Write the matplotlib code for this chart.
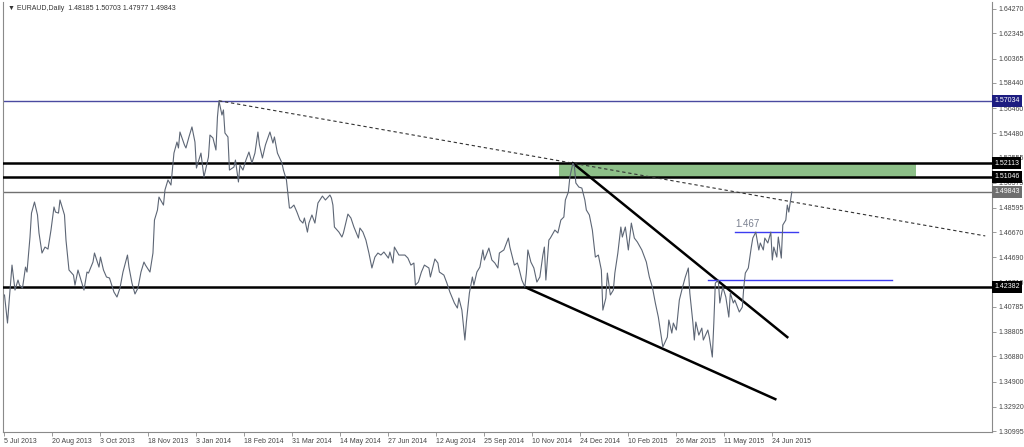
import matplotlib
matplotlib.use("Agg")
import matplotlib.pyplot as plt
from matplotlib.patches import Rectangle

plt.rcParams['font.family'] = ['Liberation Sans', 'DejaVu Sans']

# daily closes (bar index, price)
bars = [0, 2, 3, 5, 7, 9, 10, 12, 14, 15, 17, 18, 20, 22, 23, 25, 27, 29, 31, 33,
        34, 36, 37, 40, 41, 43, 46, 47, 49, 51, 53, 55, 56, 59, 60, 63, 64, 66, 68, 70,
        73, 75, 77, 79, 82, 83, 85, 87, 89, 91, 93, 94, 97, 99, 100, 102, 103, 106, 107, 109,
        111, 113, 115, 116, 117, 120, 121, 123, 125, 127, 128, 130, 131, 133, 136, 137, 139, 141, 142, 143,
        145, 146, 147, 149, 150, 153, 154, 156, 157, 159, 161, 163, 165, 167, 169, 170, 172, 174, 177, 179,
        180, 182, 185, 186, 188, 190, 191, 193, 195, 197, 199, 200, 202, 203, 205, 207, 209, 212, 214, 217,
        218, 219, 220, 223, 225, 226, 229, 231, 233, 236, 237, 239, 241, 243, 245, 247, 249, 251, 253, 256,
        257, 259, 260, 263, 267, 269, 271, 273, 274, 276, 278, 280, 283, 284, 287, 289, 290, 293, 295, 297,
        300, 302, 303, 305, 307, 308, 310, 312, 313, 315, 317, 319, 320, 323, 325, 327, 329, 330, 333, 336,
        337, 340, 342, 343, 345, 347, 348, 349, 351, 353, 355, 357, 359, 360, 361, 363, 364, 367, 369, 371,
        373, 374, 376, 377, 379, 380, 381, 383, 385, 387, 388, 390, 392, 394, 396, 398, 399, 401, 402, 404,
        406, 407, 409, 411, 412, 414, 416, 418, 420, 422, 425, 428, 430, 432, 434, 436, 439, 442, 443, 445,
        446, 448, 450, 452, 454, 456, 457, 459, 460, 461, 463, 465, 466, 469, 470, 472, 473, 474, 476, 477,
        479, 481, 483, 484, 486, 487, 489, 490, 492, 493, 494, 496, 498, 499, 501, 503, 504, 506, 507, 509,
        511, 512, 513, 515, 516, 518, 519, 521, 522, 523, 525]
closes = [1.4172, 1.3951, 1.4109, 1.4408, 1.4211, 1.4290, 1.4250, 1.4227, 1.4392, 1.4353,
          1.4629, 1.4818, 1.4905, 1.4803, 1.4661, 1.4503, 1.4550, 1.4534, 1.4684, 1.4866,
          1.4826, 1.4818, 1.4921, 1.4803, 1.4605, 1.4369, 1.4329, 1.4250, 1.4369, 1.4290,
          1.4211, 1.4353, 1.4345, 1.4432, 1.4503, 1.4392, 1.4471, 1.4369, 1.4314, 1.4306,
          1.4195, 1.4156, 1.4227, 1.4353, 1.4487, 1.4392, 1.4266, 1.4180, 1.4227, 1.4353,
          1.4432, 1.4408, 1.4353, 1.4503, 1.4763, 1.4842, 1.4944, 1.4881, 1.5000, 1.5079,
          1.5039, 1.5291, 1.5378, 1.5331, 1.5457, 1.5355, 1.5331, 1.5418, 1.5497, 1.5378,
          1.5173, 1.5252, 1.5291, 1.5102, 1.5260, 1.5433, 1.5410, 1.5315, 1.5575, 1.5703,
          1.5591, 1.5631, 1.5449, 1.5418, 1.5157, 1.5181, 1.5236, 1.5063, 1.5197, 1.5157,
          1.5236, 1.5299, 1.5213, 1.5291, 1.5457, 1.5355, 1.5252, 1.5355, 1.5457, 1.5370,
          1.5418, 1.5291, 1.5213, 1.5157, 1.5079, 1.4858, 1.4858, 1.4881, 1.4826, 1.4763,
          1.4739, 1.4779, 1.4668, 1.4739, 1.4803, 1.4739, 1.4897, 1.4952, 1.4921, 1.4960,
          1.4937, 1.4881, 1.4708, 1.4668, 1.4629, 1.4661, 1.4810, 1.4779, 1.4708, 1.4621,
          1.4700, 1.4668, 1.4605, 1.4503, 1.4385, 1.4471, 1.4503, 1.4487, 1.4511, 1.4463,
          1.4511, 1.4424, 1.4550, 1.4487, 1.4487, 1.4463, 1.4408, 1.4424, 1.4250, 1.4274,
          1.4353, 1.4408, 1.4385, 1.4314, 1.4456, 1.4424, 1.4353, 1.4329, 1.4266, 1.4195,
          1.4109, 1.4069, 1.4148, 1.4053, 1.3817, 1.3959, 1.4187, 1.4314, 1.4250, 1.4353,
          1.4392, 1.4527, 1.4448, 1.4542, 1.4448, 1.4424, 1.4385, 1.4503, 1.4527, 1.4621,
          1.4550, 1.4408, 1.4424, 1.4385, 1.4290, 1.4235, 1.4345, 1.4527, 1.4432, 1.4385,
          1.4274, 1.4314, 1.4487, 1.4550, 1.4290, 1.4605, 1.4621, 1.4684, 1.4661, 1.4763,
          1.4787, 1.4921, 1.4984, 1.5102, 1.5211, 1.5190, 1.5055, 1.5023, 1.5015, 1.4921,
          1.4842, 1.4803, 1.4684, 1.4471, 1.4487, 1.4369, 1.4053, 1.4148, 1.4345, 1.4172,
          1.4211, 1.4345, 1.4503, 1.4708, 1.4629, 1.4708, 1.4527, 1.4739, 1.4621, 1.4590,
          1.4527, 1.4432, 1.4314, 1.4235, 1.4109, 1.3998, 1.3762, 1.3840, 1.3975, 1.3872,
          1.3951, 1.3896, 1.4132, 1.4227, 1.4314, 1.4385, 1.4187, 1.3959, 1.3817, 1.3959,
          1.3856, 1.3911, 1.3817, 1.3896, 1.3840, 1.3683, 1.3951, 1.4266, 1.4290, 1.4109,
          1.4235, 1.4156, 1.3998, 1.4187, 1.4109, 1.4132, 1.4069, 1.4038, 1.4077, 1.4235,
          1.4345, 1.4385, 1.4550, 1.4621, 1.4668, 1.4527, 1.4582, 1.4527, 1.4621, 1.4582,
          1.4668, 1.4448, 1.4550, 1.4471, 1.4629, 1.4463, 1.4724, 1.4763, 1.4881, 1.4826,
          1.49843]

date_labels = ["5 Jul 2013", "20 Aug 2013", "3 Oct 2013", "18 Nov 2013", "3 Jan 2014",
               "18 Feb 2014", "31 Mar 2014", "14 May 2014", "27 Jun 2014", "12 Aug 2014",
               "25 Sep 2014", "10 Nov 2014", "24 Dec 2014", "10 Feb 2015", "26 Mar 2015",
               "11 May 2015", "24 Jun 2015"]
price_ticks = [1.64270, 1.62345, 1.60365, 1.58440, 1.56460, 1.54480, 1.52555, 1.50575,
               1.48595, 1.46670, 1.44690, 1.42710, 1.40785, 1.38805, 1.36880, 1.34900,
               1.32920, 1.30995]

# drawn levels
high_level = 1.57034
zone_top = 1.52113
zone_bottom = 1.51046
last_close = 1.49843
support = 1.42382
blue_level_1 = 1.4668
blue_level_2 = 1.4290

# trend line anchors (bar, price)
trend_a = (143, 1.57034)
trend_b = (379, 1.52113)
chan_top = [(379, 1.52113), (522, 1.3840)]
chan_bot = [(347, 1.4235), (514, 1.3351)]

fig = plt.figure(figsize=(10.24, 4.47), dpi=100)
ax = fig.add_axes([3/1024, 15/447, 989/1024, 430/447])
xmax = 658.5
ax.set_xlim(-1, xmax)
ax.set_ylim(1.3092, 1.6482)

# green zone
ax.add_patch(Rectangle((370, zone_bottom), 238, zone_top - zone_bottom,
                       facecolor='#8dbf88', edgecolor='none', zorder=1))

ax.axhline(high_level, color='#4a4aa0', lw=1, zorder=2)
ax.axhline(zone_top, color='black', lw=1.8, zorder=3)
ax.axhline(zone_bottom, color='black', lw=1.8, zorder=3)
ax.axhline(last_close, color='#707070', lw=1, zorder=2)
ax.axhline(support, color='black', lw=1.8, zorder=3)

# dotted trend line from the 2014 high through the Dec 2014 high
slope = (trend_b[1] - trend_a[1]) / (trend_b[0] - trend_a[0])
x_end = 654
ax.plot([trend_a[0], x_end], [trend_a[1], trend_a[1] + slope * (x_end - trend_a[0])],
        color='#333333', lw=0.8, ls=(0, (3, 2.5)), zorder=3)

# falling channel
ax.plot([p[0] for p in chan_top], [p[1] for p in chan_top], color='black', lw=1.8, zorder=4)
ax.plot([p[0] for p in chan_bot], [p[1] for p in chan_bot], color='black', lw=1.8, zorder=4)

# blue levels
ax.plot([487, 529], [blue_level_1, blue_level_1], color='#3c3cf0', lw=1, zorder=4)
ax.plot([469, 592], [blue_level_2, blue_level_2], color='#3c3cf0', lw=1, zorder=4)
ax.text(487, blue_level_1 + 0.0025, "1.467", color='#7a8090', fontsize=7, ha='left', va='bottom')

ax.plot(bars, closes, color='#5d6675', lw=0.8, zorder=5)

# axes styling
for s in ['left', 'right', 'bottom', 'top']:
    ax.spines[s].set_color('#8a8a8a')
    ax.spines[s].set_linewidth(0.8)
ax.spines['top'].set_visible(False)

ax.yaxis.tick_right()
ax.set_yticks(price_ticks)
ax.set_yticklabels([f"{v:.5f}" for v in price_ticks])
ax.tick_params(axis='y', direction='out', length=3, width=0.6, colors='#8a8a8a',
               labelcolor='#444444', labelsize=5, pad=2)

ax.set_xticks([32 * i for i in range(len(date_labels))])
ax.set_xticklabels(date_labels)
ax.tick_params(axis='x', direction='out', length=3, width=0.6, colors='#8a8a8a',
               labelcolor='#444444', labelsize=5, pad=1)
for lbl in ax.get_xticklabels():
    lbl.set_ha('left')

# price labels on the right scale
tr = ax.get_yaxis_transform()
for val, col in [(high_level, '#1c1c80'), (zone_top, 'black'), (zone_bottom, 'black'),
                 (last_close, '#6e6e6e'), (support, 'black')]:
    ax.text(1.002, val, f"{val:.5f}", transform=tr, color='white', fontsize=5,
            ha='left', va='center', zorder=10, clip_on=False,
            bbox=dict(boxstyle='square,pad=0.35', fc=col, ec='none'))

fig.text(8/1024, 1 - 9/447, "\u25bc EURAUD,Daily  1.48185 1.50703 1.47977 1.49843",
         fontsize=5, color='#333333', ha='left', va='center')

fig.savefig("out.png", dpi=100)
